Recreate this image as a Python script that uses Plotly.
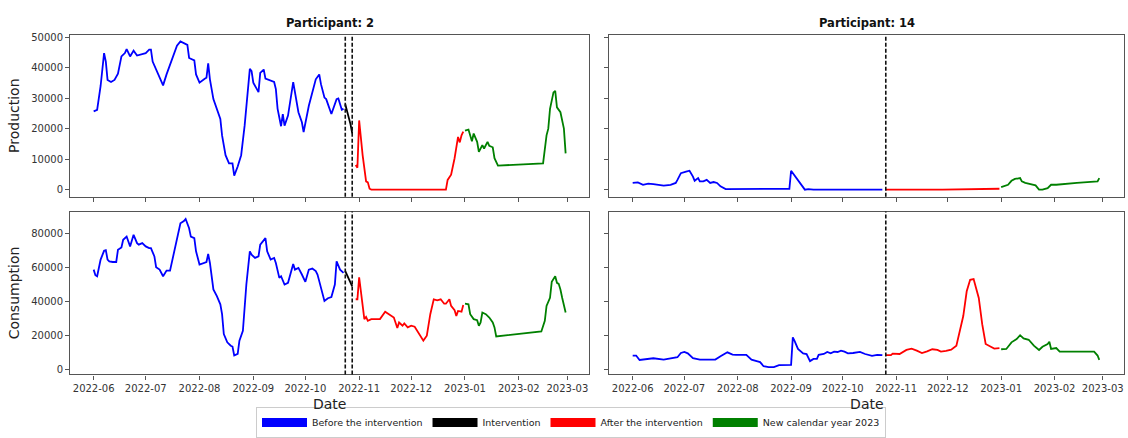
import pandas as pd
import plotly.graph_objects as go

START = "2022-06-01"

# ---------------- Participant 2 : Production ----------------
p2_prod_before_days = [0, 2, 4, 6, 7, 8, 10, 12, 14, 16, 18, 19, 21, 23, 25, 28, 30, 32, 33, 34,
                       36, 38, 40, 42, 44, 46, 48, 50, 52, 54, 55, 58, 59, 61, 64, 65, 66, 67, 69, 71,
                       73, 74, 76, 78, 80, 81, 83, 85, 87, 90, 91, 92, 95, 96, 98, 99, 102, 104, 105, 106,
                       108, 109, 110, 112, 115, 116, 118, 120, 121, 124, 126, 128, 130, 131, 133, 134, 137, 138, 140, 141,
                       143, 144]
p2_prod_before = [25700, 26200, 34000, 44800, 42000, 36000, 35300, 36000, 38000, 43700,
                  44800, 46100, 43700, 45600, 44000, 44600, 44800, 45900, 45900, 42000,
                  39400, 37000, 34200, 37800, 41000, 43700, 47200, 48600, 48000, 47500,
                  43200, 42400, 37800, 35100, 36400, 36700, 41400, 36200, 29700, 26700,
                  23200, 17800, 11300, 8600, 8600, 4600, 7600, 11300, 21000, 39600,
                  38900, 35100, 32000, 38300, 39400, 36400, 35600, 35300, 33000, 26500,
                  20800, 24800, 21000, 24300, 35300, 31900, 25400, 22100, 18900, 27500,
                  31900, 36200, 37800, 34600, 30200, 29700, 24800, 26700, 29700, 29900,
                  26200, 26500]
p2_prod_interv_days = [145, 146, 147, 148, 149]
p2_prod_interv = [28000, 26000, 24000, 21500, 18500]
p2_prod_after_days = [151, 152, 153, 155, 157, 158, 159, 160, 203, 204, 206, 208, 210, 211, 212, 213]
p2_prod_after = [8100, 7200, 22700, 11300, 2700, 2400, 300, 0, 0, 3200, 4900, 10300, 17300, 15500, 17800, 19000]
p2_prod_new_days = [214, 216, 218, 219, 221, 222, 224, 225, 227, 228, 230, 231, 233, 259, 261, 262,
                    263, 265, 266, 267, 269, 271, 272]
p2_prod_new = [19400, 19700, 15900, 18400, 15700, 12400, 14600, 13500, 15700, 14400, 13900, 10300,
               7900, 8600, 17800, 20000, 26500, 31900, 32400, 27000, 25400, 20000, 11900]

# ---------------- Participant 2 : Consumption ----------------
p2_cons_before_days = [0, 1, 2, 4, 6, 7, 8, 9, 11, 13, 14, 16, 17, 19, 20, 21, 23, 25, 26, 28,
                       30, 32, 33, 35, 36, 38, 40, 42, 44, 46, 48, 50, 52, 53, 55, 56, 58, 59, 61, 64,
                       65, 66, 67, 69, 71, 73, 74, 75, 77, 79, 80, 81, 83, 84, 86, 88, 90, 91, 93, 95,
                       96, 99, 100, 102, 104, 105, 107, 108, 110, 112, 115, 116, 118, 120, 122, 124, 126, 128, 129, 130,
                       133, 135, 137, 139, 140, 142, 144]
p2_cons_before = [58900, 55600, 55000, 64800, 70000, 70400, 64800, 63800, 63400, 63400,
                  70600, 72000, 76500, 78400, 75500, 72600, 79400, 74500, 73600, 74500,
                  72600, 71600, 71600, 66700, 60300, 58900, 55000, 58300, 58300, 67700,
                  78400, 86200, 87600, 88800, 83300, 78400, 77500, 69700, 61900, 62800,
                  63400, 68100, 62800, 47200, 43300, 38400, 32600, 20900, 16000, 14000,
                  13500, 8200, 9200, 17000, 22800, 50100, 69700, 67700, 65800, 66700,
                  73600, 77500, 69700, 64800, 65800, 62800, 54000, 55000, 50100, 51100,
                  62200, 58900, 59900, 56000, 51700, 58900, 59500, 58000, 56000, 52100,
                  40400, 42000, 42700, 50100, 63800, 58900, 57000]
p2_cons_interv_days = [145, 146, 147, 148, 149]
p2_cons_interv = [58000, 55500, 53500, 51000, 49000]
p2_cons_after_days = [151, 152, 153, 155, 156, 157, 158, 160, 165, 168, 171, 173, 175, 176, 178, 179,
                      181, 183, 185, 187, 189, 190, 192, 194, 196, 198, 200, 202, 203, 205, 206, 208,
                      209, 210, 212, 213]
p2_cons_after = [41400, 41400, 54400, 38400, 29700, 31000, 28700, 29700, 29700, 34100,
                 32200, 30600, 24400, 27700, 25800, 27100, 24800, 25800, 25200, 21900,
                 18000, 17000, 19900, 32600, 41400, 40800, 41400, 38800, 38800, 41400,
                 37500, 34900, 31600, 34500, 34100, 38000]
p2_cons_new_days = [214, 216, 217, 219, 221, 222, 223, 224, 226, 228, 230, 231, 232, 258, 260, 261,
                    263, 264, 266, 267, 268, 269, 270, 272]
p2_cons_new = [38800, 38400, 32600, 29700, 29100, 25800, 27700, 33600, 32600, 30600, 27700, 24800,
               19500, 22400, 28700, 37500, 42300, 51700, 55000, 51100, 50500, 47200, 42300, 33600]

# ---------------- Participant 14 : Production ----------------
p14_prod_before_days = [0, 3, 6, 9, 12, 15, 18, 22, 25, 26, 28, 31, 33, 35, 36, 38, 39, 41, 43, 45,
                        47, 49, 51, 54, 82, 91, 92, 94, 96, 98, 100, 102, 105, 145]
p14_prod_before = [2200, 2400, 1600, 2000, 1800, 1600, 1300, 1600, 2200, 3200,
                   5400, 5900, 6200, 4300, 2900, 3800, 2700, 2700, 3200, 2200,
                   2500, 2200, 1100, 200, 200, 300, 6200, 4600, 2900, 1600,
                   0, 200, 0, 0]
p14_prod_after_days = [147, 180, 213]
p14_prod_after = [0, 0, 300]
p14_prod_new_days = [214, 216, 218, 220, 222, 225, 226, 228, 231, 234, 236, 238, 241, 243, 246, 252,
                     258, 264, 270, 271]
p14_prod_new = [800, 1100, 1600, 2900, 3500, 3800, 2700, 2200, 1800, 1400, 0, 0, 500, 1600, 1600, 1800,
                2200, 2500, 2700, 3800]

# ---------------- Participant 14 : Consumption ----------------
p14_cons_before_days = [0, 2, 4, 8, 12, 18, 22, 26, 28, 30, 32, 35, 39, 48, 51, 55, 58, 60, 66, 69,
                        72, 74, 76, 79, 82, 85, 92, 93, 94, 96, 99, 101, 103, 105, 107, 108, 111, 113, 115, 117,
                        119, 121, 123, 125, 128, 132, 135, 139, 142, 145]
p14_cons_before = [8200, 8200, 5600, 6000, 6600, 5800, 6600, 7200, 9700, 10300,
                   9500, 6600, 5800, 5800, 7800, 10100, 8800, 8600, 8600, 5800,
                   4900, 4300, 1900, 1400, 1400, 2500, 2700, 18900, 16900, 12100,
                   9500, 9100, 4900, 6200, 6200, 8600, 9100, 10300, 9500, 10500,
                   10300, 11100, 10500, 9500, 9700, 10300, 9100, 8000, 8600, 8400]
p14_cons_after_days = [147, 150, 151, 155, 159, 162, 165, 168, 171, 174, 177, 179, 182, 185, 188, 190,
                       192, 194, 196, 198, 199, 201, 203, 205, 208, 210, 213]
p14_cons_after = [8400, 8400, 9300, 9100, 11500, 12300, 11100, 9700, 10700, 11900,
                  11500, 10500, 10900, 11700, 14000, 22800, 31500, 46100, 52900, 53300,
                  50000, 42200, 26700, 15000, 13400, 12300, 12600]
p14_cons_new_days = [214, 217, 220, 223, 225, 227, 230, 233, 236, 238, 241, 242, 243, 246, 248, 252,
                     268, 270, 271]
p14_cons_new = [11900, 12100, 16000, 17900, 20200, 18300, 17500, 14000, 11500, 13400, 15000, 16300,
                12100, 12600, 10500, 10500, 10500, 8200, 5600]

# intervention markers
p2_intervention_dates = ["2022-10-24", "2022-10-28"]
p14_intervention_dates = ["2022-10-26"]

participants = ["Participant: 2", "Participant: 14"]
row_labels = ["Production", "Consumption"]
phase_names = ["Before the intervention", "Intervention", "After the intervention", "New calendar year 2023"]
phase_colors = ["#0000ff", "#000000", "#ff0000", "#008000"]
month_ticks = pd.date_range("2022-06-01", "2023-03-01", freq="MS")
prod_ticks = [0, 10000, 20000, 30000, 40000, 50000]
cons_ticks = [0, 20000, 40000, 60000, 80000]

t0 = pd.Timestamp(START)


def to_dates(days):
    return [t0 + pd.Timedelta(days=int(d)) for d in days]


fig = go.Figure()

panels = [
    ("x", "y", [(p2_prod_before_days, p2_prod_before, 0), (p2_prod_interv_days, p2_prod_interv, 1),
                (p2_prod_after_days, p2_prod_after, 2), (p2_prod_new_days, p2_prod_new, 3)]),
    ("x2", "y2", [(p14_prod_before_days, p14_prod_before, 0),
                  (p14_prod_after_days, p14_prod_after, 2), (p14_prod_new_days, p14_prod_new, 3)]),
    ("x3", "y3", [(p2_cons_before_days, p2_cons_before, 0), (p2_cons_interv_days, p2_cons_interv, 1),
                  (p2_cons_after_days, p2_cons_after, 2), (p2_cons_new_days, p2_cons_new, 3)]),
    ("x4", "y4", [(p14_cons_before_days, p14_cons_before, 0),
                  (p14_cons_after_days, p14_cons_after, 2), (p14_cons_new_days, p14_cons_new, 3)]),
]

for xa, ya, segs in panels:
    for days, vals, ph in segs:
        fig.add_trace(go.Scatter(x=to_dates(days), y=vals, mode="lines", xaxis=xa, yaxis=ya,
                                 line=dict(color=phase_colors[ph], width=1.8),
                                 showlegend=False, hoverinfo="skip"))

# legend entries
for name, col in zip(phase_names, phase_colors):
    fig.add_trace(go.Scatter(x=[None], y=[None], mode="lines", name=name,
                             line=dict(color=col, width=9), xaxis="x", yaxis="y"))

# intervention dashed lines
shapes = []
for xa, ya, dates in [("x", "y", p2_intervention_dates), ("x3", "y3", p2_intervention_dates),
                      ("x2", "y2", p14_intervention_dates), ("x4", "y4", p14_intervention_dates)]:
    for d in dates:
        shapes.append(dict(type="line", xref=xa, yref=ya + " domain", x0=d, x1=d, y0=0, y1=1,
                           line=dict(color="#111111", width=1.6, dash="4px,2px")))

W, H = 1128, 438
xL = [70.1 / W, 589.2 / W]
xR = [609.3 / W, 1124.4 / W]
yTop = [1 - 195 / H, 1 - 32 / H]
yBot = [1 - 374 / H, 1 - 210 / H]
xrange = ["2022-05-18 10:00", "2023-03-13 14:00"]
prod_range = [-2300, 50800]
cons_range = [-2950, 93150]

FONT = "DejaVu Sans"
axcol = "#555555"
tickfont = dict(family=FONT, size=10, color="#333333")


def xaxis(domain, anchor, labels, title=None):
    d = dict(domain=domain, anchor=anchor, type="date", range=xrange, tickvals=month_ticks,
             tickformat="%Y-%m", showticklabels=labels, ticks="outside", ticklen=4, tickwidth=1,
             tickcolor=axcol, showline=True, linecolor=axcol, linewidth=1.2, mirror=True,
             showgrid=False, zeroline=False, tickfont=tickfont)
    if title:
        d["title"] = dict(text=title, font=dict(family=FONT, size=14, color="#222222"), standoff=6)
    return d


def yaxis(domain, anchor, rng, ticks, labels, title=None):
    d = dict(domain=domain, anchor=anchor, range=rng, tickvals=ticks, tickformat="d",
             showticklabels=labels, ticks="outside", ticklen=4, tickwidth=1, tickcolor=axcol,
             showline=True, linecolor=axcol, linewidth=1.2, mirror=True, showgrid=False,
             zeroline=False, tickfont=tickfont)
    if title:
        d["title"] = dict(text=title, font=dict(family=FONT, size=14, color="#222222"), standoff=8)
    return d


annotations = []
for dom, txt in [(xL, participants[0]), (xR, participants[1])]:
    annotations.append(dict(text="<b>" + txt + "</b>", x=(dom[0] + dom[1]) / 2, y=1 - 20 / H,
                            xref="paper", yref="paper", showarrow=False, xanchor="center",
                            yanchor="middle", font=dict(family=FONT, size=11.5, color="#111111")))

fig.update_layout(
    width=W, height=H, autosize=False,
    margin=dict(l=0, r=0, t=0, b=0),
    paper_bgcolor="white", plot_bgcolor="white",
    font=dict(family=FONT),
    xaxis=xaxis(xL, "y", False),
    xaxis2=xaxis(xR, "y2", False),
    xaxis3=xaxis(xL, "y3", True, "Date"),
    xaxis4=xaxis(xR, "y4", True, "Date"),
    yaxis=yaxis(yTop, "x", prod_range, prod_ticks, True, row_labels[0]),
    yaxis2=yaxis(yTop, "x2", prod_range, prod_ticks, False),
    yaxis3=yaxis(yBot, "x3", cons_range, cons_ticks, True, row_labels[1]),
    yaxis4=yaxis(yBot, "x4", cons_range, cons_ticks, False),
    shapes=shapes,
    annotations=annotations,
    showlegend=True,
    legend=dict(orientation="h", x=571 / W, xanchor="center", y=0.0, yanchor="bottom",
                bordercolor="#cccccc", borderwidth=1, bgcolor="white", itemwidth=45,
                font=dict(family=FONT, size=9.5, color="#222222"), tracegroupgap=0),
)

fig.write_html("out.html")
